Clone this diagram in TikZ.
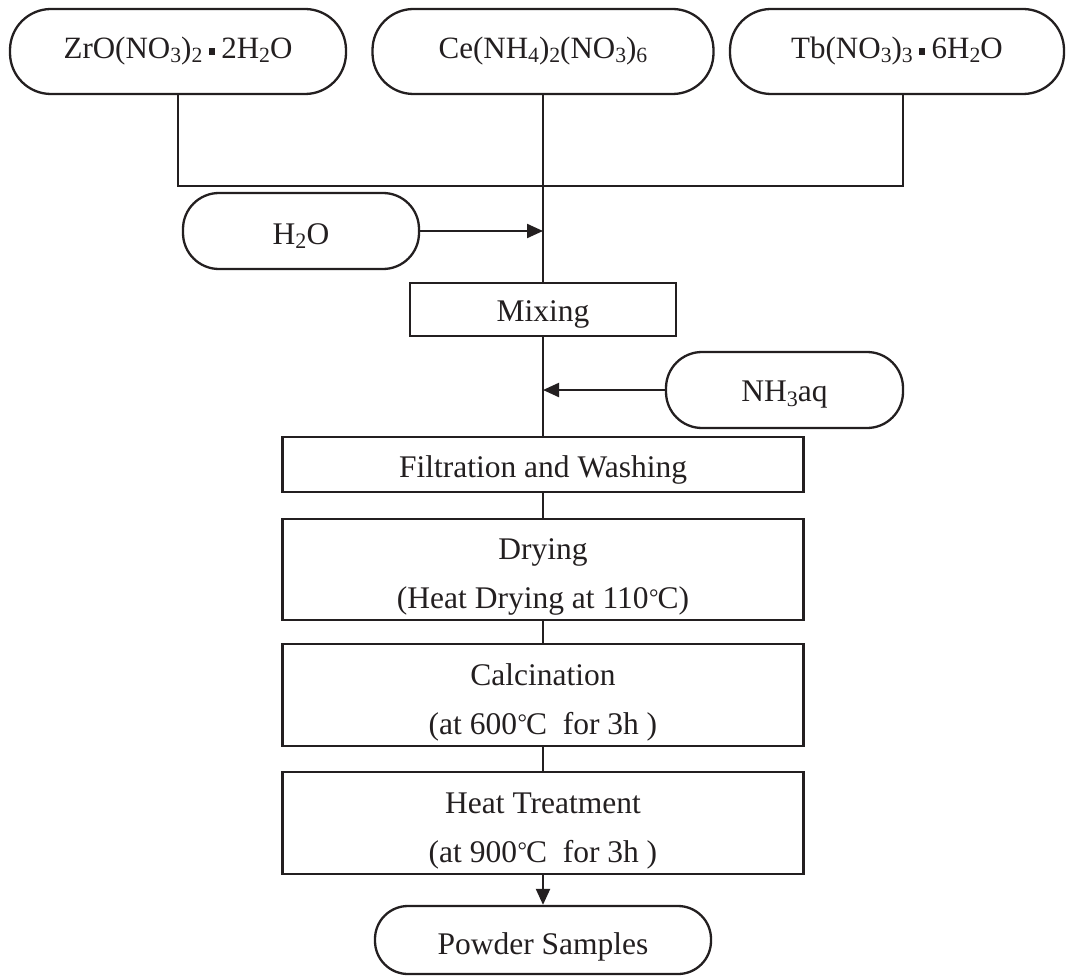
\documentclass[tikz,border=0pt]{standalone}
\usepackage{fontspec}
\usepackage{graphicx}
\setmainfont{Liberation Serif}
\usetikzlibrary{arrows.meta}
\definecolor{ink}{HTML}{231F20}
% chemical subscript, the small square separator dot and the degree-Celsius sign
\newcommand\sbs[1]{\raisebox{-0.13em}{\fontsize{0.7em}{0.7em}\selectfont #1}}
\newcommand\kdot{\hspace{0.2em}\raisebox{0.14em}{\rule{0.21em}{0.21em}}\hspace{0.2em}}
\newcommand\degC{\kern0.5pt\raisebox{0.12em}{\scalebox{0.75}{°}}\kern-1pt C}
% set a label a little lower inside its box without changing the box size
\newcommand\dn[1]{\raisebox{-5pt}[\height][\depth]{#1}}
\newcommand\twolines[2]{\dn{\begin{tabular}{@{}c@{}}#1\\#2\end{tabular}}}
\begin{document}
\begin{tikzpicture}[x=1pt,y=-1pt,
  every node/.style={text=ink, inner sep=0pt, align=center},
  reagent/.style={draw=ink, line width=2.3pt, rounded corners=41pt, minimum height=85pt,
    font=\fontsize{31}{36}\selectfont},
  source/.style={draw=ink, line width=2.3pt, rounded corners=36pt, minimum height=76pt,
    font=\fontsize{31.5}{38}\selectfont},
  stepbox/.style={draw=ink, line width=2.3pt, minimum width=521pt,
    font=\fontsize{31.5}{49}\selectfont},
  link/.style={draw=ink, line width=2.2pt},
  feed/.style={link, -{Triangle[length=16pt,width=14pt]}}]
\useasboundingbox (0,0) rectangle (1067,976);

% raw materials
\node[reagent, minimum width=336pt] (zr) at (178,51.5) {ZrO(NO\sbs{3})\sbs{2}\kdot 2H\sbs{2}O};
\node[reagent, minimum width=341pt] (ce) at (543,51.5) {Ce(NH\sbs{4})\sbs{2}(NO\sbs{3})\sbs{6}};
\node[reagent, minimum width=334pt] (tb) at (897,51.5) {Tb(NO\sbs{3})\sbs{3}\kdot 6H\sbs{2}O};

% additives
\node[source, minimum width=236pt] (water) at (301,231) {\dn{H\sbs{2}O}};
\node[source, minimum width=237pt] (ammonia) at (784.5,390) {\dn{NH\sbs{3}aq}};

% process steps
\node[stepbox, minimum width=266pt, minimum height=53pt] (mix) at (543,309.5) {\dn{Mixing}};
\node[stepbox, minimum height=55pt] (filt) at (543,464.5) {\dn{Filtration and Washing}};
\node[stepbox, minimum height=101pt] (dry) at (543,569.5) {\twolines{Drying}{(Heat Drying at 110\degC)}};
\node[stepbox, minimum height=102pt] (calc) at (543,695) {\twolines{Calcination}{(at 600\degC\ \ for 3h )}};
\node[stepbox, minimum height=102pt] (heat) at (543,823) {\twolines{Heat Treatment}{(at 900\degC\ \ for 3h )}};
\node[source, minimum width=336pt, minimum height=68pt, rounded corners=33pt] (powder) at (543,940) {\raisebox{-7pt}[\height][\depth]{Powder Samples}};

% collecting line under the raw materials
\coordinate (join) at (543,186);
\draw[link] (zr.south) -- (zr.south |- join) -- ([xshift=6pt]tb.south |- join) -- ([xshift=6pt]tb.south);
\draw[link] (ce.south) -- (mix.north);

% main flow
\draw[feed] (water.east) -- (water.east -| mix.north);
\draw[link] (mix.south) -- (filt.north);
\draw[feed] (ammonia.west) -- (ammonia.west -| mix.south);
\draw[link] (filt.south) -- (dry.north);
\draw[link] (dry.south) -- (calc.north);
\draw[link] (calc.south) -- (heat.north);
\draw[feed] (heat.south) -- (powder.north);
\end{tikzpicture}
\end{document}
